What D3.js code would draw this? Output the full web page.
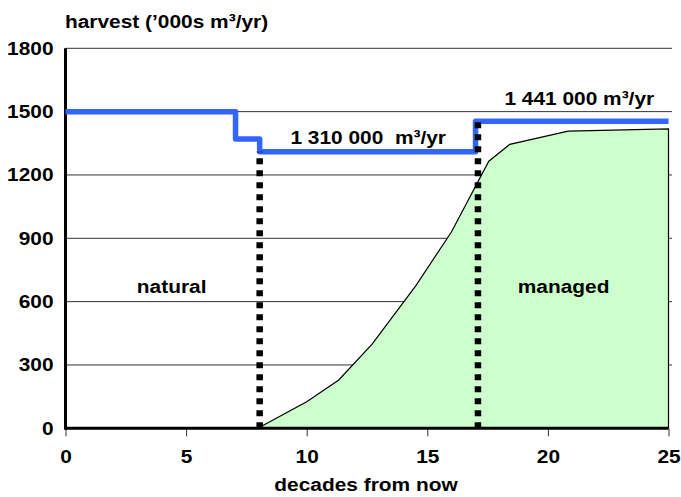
<!DOCTYPE html>
<html>
<head>
<meta charset="utf-8">
<script src="https://cdn.jsdelivr.net/npm/d3@7"></script>
<style>
  body { margin: 0; background: white; }
  text { font-family: "Liberation Sans", Arial, sans-serif; font-weight: bold; fill: #000; }
</style>
</head>
<body>
<div id="chart"></div>
<script>
// Harvest level (blue step line), value holds until the next decade
var harvestDecades = [0, 7.05, 8.05, 17, 25];
var harvestValues = [1500, 1370, 1310, 1455, 1455];

// Managed forest growth (green area)
var managedDecades = [8.05, 10, 11.33, 12.72, 14.52, 16, 17.55, 18.42, 20.84, 25];
var managedValues = [5, 126, 229, 400, 675, 930, 1265, 1345, 1408, 1418];

// Dotted separators: where they stand and how high they reach
var dividerDecades = [8.05, 17.1];
var dividerTops = [1310, 1455];

var xTicks = [0, 5, 10, 15, 20, 25];
var yTicks = [0, 300, 600, 900, 1200, 1500, 1800];

var labels = [
    { text: "natural", decade: 4.4, value: 640 },
    { text: "managed", decade: 20.65, value: 640 },
    { text: "1 310 000  m³/yr", decade: 12.55, value: 1345 },
    { text: "1 441 000 m³/yr", decade: 21.3, value: 1530 }
];

class HarvestChart {
    constructor() {
        this.width = 681;
        this.height = 497;
        this.stretch = 1.13;   // the original lettering is a bit wider than Arial
        this.x = d3.scaleLinear().domain([0, 25]).range([65.5, 668.5]);
        this.y = d3.scaleLinear().domain([0, 1800]).range([428.3, 48.3]);
    }

    add_text(svg, txt, x, y, anchor) {
        return svg.append("text")
            .attr("transform", "translate(" + x + "," + y + ") scale(" + this.stretch + ",1)")
            .attr("text-anchor", anchor)
            .style("font-size", "18.5px")
            .style("white-space", "pre")
            .text(txt);
    }

    draw_grid(svg) {
        var x = this.x, y = this.y;
        // gridlines run slightly past the right edge, which gives the small right-hand ticks
        svg.append("g").selectAll("line")
            .data(yTicks.slice(1))
            .enter().append("line")
            .attr("x1", x(0)).attr("x2", x(25) + 3.5)
            .attr("y1", function (d) { return y(d); })
            .attr("y2", function (d) { return y(d); })
            .style("stroke", "#333")
            .style("stroke-width", 1);
    }

    draw_area(svg) {
        var x = this.x, y = this.y;
        var pts = managedDecades.map(function (d, i) { return [d, managedValues[i]]; });

        svg.append("path")
            .datum(pts)
            .attr("d", d3.area().x(function (d) { return x(d[0]); }).y0(y(0)).y1(function (d) { return y(d[1]); }))
            .style("fill", "#ccffcc")
            .style("stroke", "none");

        // outline: top curve plus the right-hand edge down to zero
        var outline = pts.concat([[25, 0]]);
        svg.append("path")
            .datum(outline)
            .attr("d", d3.line().x(function (d) { return x(d[0]); }).y(function (d) { return y(d[1]); }))
            .style("fill", "none")
            .style("stroke", "#000")
            .style("stroke-width", 1.2);
    }

    draw_axes(svg) {
        var self = this;

        var xAxis = svg.append("g")
            .attr("transform", "translate(0," + this.y(0) + ")")
            .call(d3.axisBottom(this.x).tickValues(xTicks).tickSize(8).tickPadding(16).tickFormat(d3.format("d")));
        xAxis.select(".domain").remove();
        xAxis.selectAll(".tick line").style("stroke", "#333").style("stroke-width", 1);
        xAxis.selectAll(".tick text")
            .attr("y", 24 / self.stretch)
            .attr("transform", "scale(" + self.stretch + ",1)")
            .attr("x", 0)
            .style("font-size", "18.5px")
            .style("font-family", null);

        var yAxis = svg.append("g")
            .attr("transform", "translate(" + this.x(0) + ",0)")
            .call(d3.axisLeft(this.y).tickValues(yTicks).tickSize(0).tickFormat(d3.format("d")));
        yAxis.select(".domain").remove();
        yAxis.selectAll(".tick text")
            .attr("x", -12 / self.stretch)
            .attr("transform", "scale(" + self.stretch + ",1)")
            .style("font-size", "18.5px")
            .style("font-family", null);

        // heavy black axis lines
        svg.append("line")
            .attr("x1", this.x(0)).attr("x2", this.x(25))
            .attr("y1", this.y(0)).attr("y2", this.y(0))
            .style("stroke", "#000").style("stroke-width", 3);
        svg.append("line")
            .attr("x1", this.x(0)).attr("x2", this.x(0))
            .attr("y1", this.y(0) + 1.5).attr("y2", this.y(1800))
            .style("stroke", "#000").style("stroke-width", 3);
    }

    draw_harvest(svg) {
        var x = this.x, y = this.y;
        var pts = harvestDecades.map(function (d, i) { return [d, harvestValues[i]]; });

        svg.append("path")
            .datum(pts)
            .attr("d", d3.line().curve(d3.curveStepAfter)
                .x(function (d) { return x(d[0]); })
                .y(function (d) { return y(d[1]); }))
            .style("fill", "none")
            .style("stroke", "#3366ff")
            .style("stroke-width", 5.5)
            .style("stroke-linejoin", "round");
    }

    draw_dividers(svg) {
        var x = this.x, y = this.y;
        svg.append("g").selectAll("line")
            .data(dividerDecades)
            .enter().append("line")
            .attr("x1", function (d) { return x(d); })
            .attr("x2", function (d) { return x(d); })
            .attr("y1", y(0))
            .attr("y2", function (d, i) { return y(dividerTops[i]); })
            .style("stroke", "#000")
            .style("stroke-width", 6.5)
            .style("stroke-dasharray", "6,6");
    }

    draw_labels(svg) {
        var self = this;
        labels.forEach(function (l) {
            self.add_text(svg, l.text, self.x(l.decade), self.y(l.value), "middle");
        });
        this.add_text(svg, "harvest (’000s m³/yr)", 65, 28, "start");
        this.add_text(svg, "decades from now", 366, 491, "middle");
    }

    render() {
        var svg = d3.select("#chart")
            .append("svg")
            .attr("width", this.width)
            .attr("height", this.height)
            .style("display", "block");

        svg.append("rect").attr("width", this.width).attr("height", this.height).style("fill", "white");

        this.draw_grid(svg);
        this.draw_area(svg);
        this.draw_axes(svg);
        this.draw_harvest(svg);
        this.draw_dividers(svg);
        this.draw_labels(svg);
    }
}

new HarvestChart().render();
</script>
</body>
</html>
